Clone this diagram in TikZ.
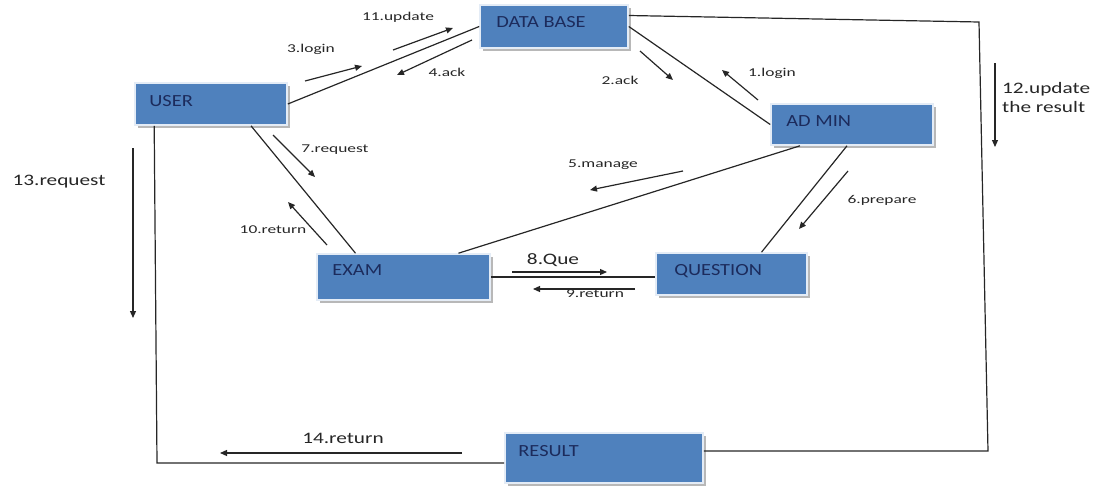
\documentclass[tikz,border=0pt]{standalone}
\usepackage{fontspec}
\setmainfont{Carlito}
\newfontfamily\boxfont[FakeStretch=1.2]{Carlito}
\newfontfamily\smallfont[FakeStretch=1.45]{Carlito}
\newfontfamily\midfont[FakeStretch=1.33]{Carlito}
\usetikzlibrary{arrows.meta,shadows}
\definecolor{boxblue}{HTML}{4F81BD}
\definecolor{boxrim}{HTML}{E4ECF6}
\definecolor{boxink}{HTML}{1C2B5C}
\definecolor{ink}{HTML}{262626}
\tikzset{
  box/.style={rectangle, fill=boxblue, draw=boxrim, line width=1.6pt,
    drop shadow={shadow xshift=2.5pt, shadow yshift=-2.5pt, fill=black!28, opacity=1}},
  boxlabel/.style={anchor=west, inner sep=0pt, text depth=0pt, text=boxink,
    font=\boxfont\fontsize{17}{20}\selectfont},
  link/.style={draw=ink, line width=1.2pt},
  msg/.style={draw=ink, line width=1.2pt, -{Triangle[length=7pt,width=6pt]}},
  small/.style={inner sep=0pt, text=ink, font=\smallfont\fontsize{12}{14}\selectfont},
  mid/.style={inner sep=0pt, text=ink, font=\midfont\fontsize{16}{19}\selectfont},
}
\begin{document}
\begin{tikzpicture}[x=1pt,y=-1pt]
\useasboundingbox (0,0) rectangle (1101,490);

% objects
\node[box, minimum width=152pt, minimum height=42pt] (user)     at (211,104)   {};
\node[box, minimum width=148pt, minimum height=43pt] (db)       at (554,26.5)  {};
\node[box, minimum width=162pt, minimum height=41pt] (admin)    at (852,124.5) {};
\node[box, minimum width=173pt, minimum height=46pt] (exam)     at (403.5,277) {};
\node[box, minimum width=151pt, minimum height=42pt] (question) at (731.5,274) {};
\node[box, minimum width=198pt, minimum height=50pt] (result)   at (604,458)   {};

\node[boxlabel] (userT)     at ([xshift=15pt,yshift=3pt]user.west)     {USER};
\node[boxlabel] (dbT)       at ([xshift=17pt,yshift=5pt]db.west)       {DATA BASE};
\node[boxlabel] (adminT)    at ([xshift=16pt,yshift=3.5pt]admin.west)  {AD MIN};
\node[boxlabel] (examT)     at ([xshift=16pt,yshift=7pt]exam.west)     {EXAM};
\node[boxlabel] (questionT) at ([xshift=19pt,yshift=4pt]question.west) {QUESTION};
\node[boxlabel] (resultT)   at ([xshift=14pt,yshift=7.5pt]result.west) {RESULT};

% links between objects
\draw[link] (user.east) -- (db.west);
\draw[link] (db.east) -- (admin.west);
\draw[link] ([xshift=-52pt]admin.south) -- ([xshift=55pt]exam.north);
\draw[link] ([xshift=-5pt]admin.south) -- ([xshift=30pt]question.north);
\draw[link] ([xshift=40pt]user.south) -- ([xshift=-48pt]exam.north);
\draw[link] (exam.east) -- (exam.east -| question.west);

\coordinate (ne) at (979,22);
\coordinate (se) at (988,451);
\draw[link] ([yshift=11pt]db.east) -- (ne) -- (se) -- (se -| result.east);

\coordinate (sw) at (157,463);
\draw[link] ([xshift=20pt]user.south west) -- (sw) -- (sw -| result.west);

% messages
\coordinate (m11a) at (393,50);  \coordinate (m11b) at (453,28);
\coordinate (m3a)  at (305,81);  \coordinate (m3b)  at (362,66);
\coordinate (m4a)  at (472,40);  \coordinate (m4b)  at (397,75);
\coordinate (m2a)  at (640,51);  \coordinate (m2b)  at (673,80);
\coordinate (m1a)  at (758,100); \coordinate (m1b)  at (722,70);
\coordinate (m5a)  at (683,171); \coordinate (m5b)  at (590,190);
\coordinate (m6a)  at (848,171); \coordinate (m6b)  at (799,229);
\coordinate (m7a)  at (273,135); \coordinate (m7b)  at (315,177);
\coordinate (m10a) at (327,245); \coordinate (m10b) at (288,202);
\coordinate (m8a)  at (512,272); \coordinate (m8b)  at (607,272);
\coordinate (m9a)  at (635,289); \coordinate (m9b)  at (533,289);
\coordinate (m12a) at (995,63);  \coordinate (m12b) at (995,147);
\coordinate (m13a) at (133,148); \coordinate (m13b) at (133,318);
\coordinate (m14a) at (462,453); \coordinate (m14b) at (220,453);

\foreach \m in {11,3,4,2,1,5,6,7,10,8,9,12,13,14}
  \draw[msg] (m\m a) -- (m\m b);

% message labels
\node[small] (l11) at (398,17)  {11.update};
\node[small] (l3)  at (311,49)  {3.login};
\node[small] (l4)  at (447,72)  {4.ack};
\node[small] (l2)  at (620,80)  {2.ack};
\node[small] (l1)  at (772,73)  {1.login};
\node[small] (l5)  at (603,165) {5.manage};
\node[small] (l6)  at (882,200) {6.prepare};
\node[small] (l7)  at (335,150) {7.request};
\node[small] (l10) at (273,230) {10.return};
\node[small] (l9)  at (595,294) {9.return};
\node[mid]   (l8)  at (553,260) {8.Que};
\node[mid]   (l13) at (59,182)  {13.request};
\node[mid]   (l14) at (343,438) {14.return};
\node[mid, anchor=west, align=left] (l12) at (1002,98) {12.update\\the result};
\end{tikzpicture}
\end{document}
